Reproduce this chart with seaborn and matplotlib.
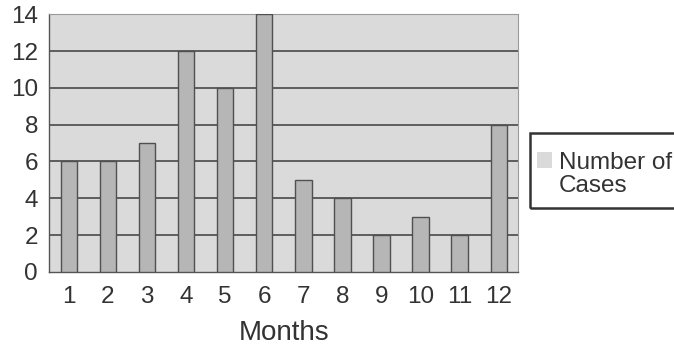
import matplotlib
matplotlib.use("Agg")
import matplotlib.pyplot as plt
import seaborn as sns
import pandas as pd
import numpy as np
from matplotlib.patches import Patch, Rectangle

# values
months = ["1", "2", "3", "4", "5", "6", "7", "8", "9", "10", "11", "12"]
cases = [6, 6, 7, 12, 10, 14, 5, 4, 2, 3, 2, 8]
yticks = [0, 2, 4, 6, 8, 10, 12, 14]

df = pd.DataFrame({"Months": months, "Number of Cases": cases})

sns.set_style("white")
plt.rcParams["font.family"] = ["Liberation Sans", "DejaVu Sans"]

fig = plt.figure(figsize=(6.74, 3.46), dpi=100)
ax = fig.add_axes([0.073, 0.214, 0.696, 0.745])

ax.set_facecolor("#dadada")
sns.barplot(data=df, x="Months", y="Number of Cases", color="#b6b6b6",
            edgecolor="#505050", linewidth=1.0, width=0.42, saturation=1,
            ax=ax, zorder=3)

ax.set_ylim(0, 14)
ax.set_xlim(-0.5, 11.5)
ax.set_yticks(yticks)
for y in yticks[1:-1]:
    ax.axhline(y, color="#3c3c3c", linewidth=1.1, zorder=2)

# tick marks sit between the categories
ax.set_xticks(np.arange(-0.5, 12, 1), minor=True)
ax.tick_params(axis="x", which="minor", length=5, width=1, color="#555555", direction="out")
ax.tick_params(axis="x", which="major", length=0, pad=10, labelsize=17.5, labelcolor="#333333")
ax.tick_params(axis="y", length=5, width=1, color="#555555", direction="out",
               labelsize=17.5, labelcolor="#333333", pad=3)

for side in ["top", "right"]:
    ax.spines[side].set_color("#9a9a9a")
    ax.spines[side].set_linewidth(0.8)
for side in ["left", "bottom"]:
    ax.spines[side].set_color("#555555")
    ax.spines[side].set_linewidth(1.0)

ax.set_xlabel("Months", fontsize=20, color="#333333", labelpad=9)
ax.set_ylabel("")

# legend: swatch sits beside the first line, second line wraps under the text
handle = Patch(facecolor="#dadada", edgecolor="none")
leg = fig.legend([handle], ["Number of"], loc="upper left",
                 bbox_to_anchor=(0.786, 0.583), fontsize=17.5, frameon=False,
                 handlelength=0.6, handleheight=0.6, handletextpad=0.3,
                 borderpad=0.3, borderaxespad=0)
for t in leg.get_texts():
    t.set_color("#333333")
fig.text(559 / 674, 1 - 186 / 346, "Cases", fontsize=17.5, color="#333333",
         ha="left", va="center")
fig.add_artist(Rectangle((530 / 674, 1 - 208 / 346), 0.25, 75 / 346,
                         transform=fig.transFigure, fill=False,
                         edgecolor="#333333", linewidth=1.8))

fig.savefig("out.png", dpi=100, facecolor="white")
